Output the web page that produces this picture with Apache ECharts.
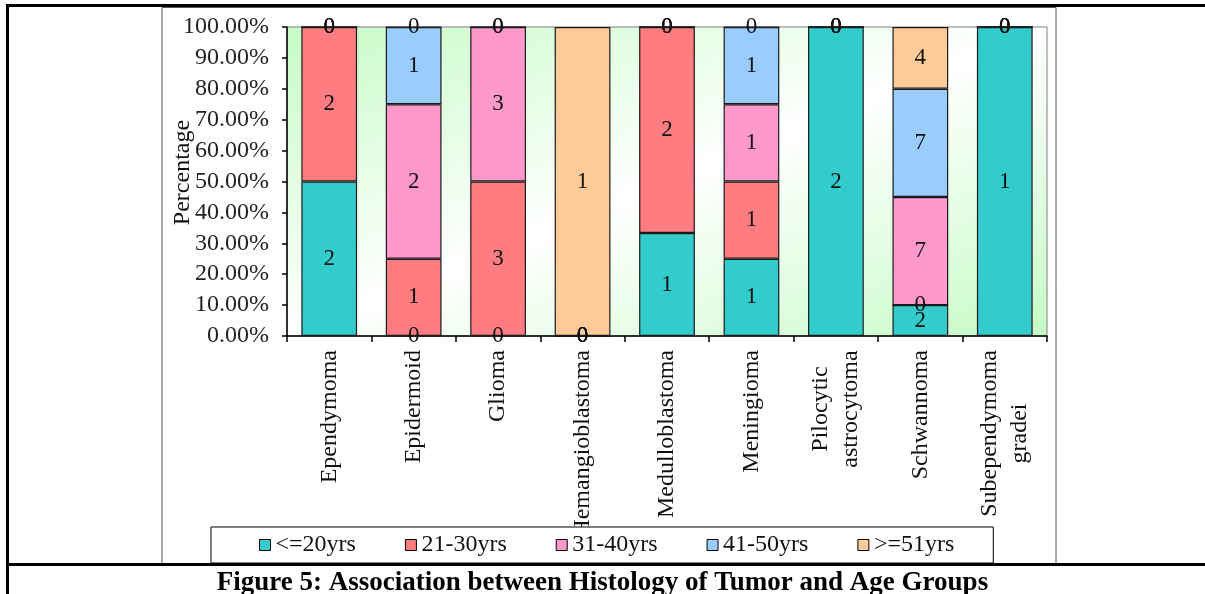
<!DOCTYPE html>
<html>
<head>
<meta charset="utf-8">
<script src="https://cdn.jsdelivr.net/npm/echarts@6/dist/echarts.min.js"></script>
<style>
html,body{margin:0;padding:0;background:#fff;}
#chart{width:1205px;height:594px;}
</style>
</head>
<body>
<div id="chart"></div>
<script>
// ---- data ----
const categories = ['Ependymoma','Epidermoid','Glioma','Hemangioblastoma','Medulloblastoma','Meningioma','Pilocytic\nastrocytoma','Schwannoma','Subependymoma\ngradei'];
const ageGroups = ['<=20yrs','21-30yrs','31-40yrs','41-50yrs','>=51yrs'];
const ageLe20   = [2,0,0,0,1,1,2,2,1];
const age21to30 = [2,1,3,0,2,1,0,0,0];
const age31to40 = [0,2,3,0,0,1,0,7,0];
const age41to50 = [0,1,0,0,0,1,0,7,0];
const ageGe51   = [0,0,0,1,0,0,0,4,0];
const yTickValues = [0,10,20,30,40,50,60,70,80,90,100];
const colors = ['#33CCCC','#FF7C80','#FF99CC','#99CCFF','#FFCC99'];
const caption = 'Figure 5: Association between Histology of Tumor and Age Groups';

const groups = [ageLe20, age21to30, age31to40, age41to50, ageGe51];
const totals = categories.map((c,i)=>groups.reduce((s,g)=>s+g[i],0));

const FONT = 'Liberation Serif';
const XFS = 24;
const gridL = 287, gridT = 27, gridR = 158, gridB = 258;
const gw = 1205 - gridL - gridR, gh = 594 - gridT - gridB;
const gsum = gw*gw + gh*gh;
const bg = new echarts.graphic.LinearGradient(0, 0, 2*gh*gh/gsum, 2*gw*gw/gsum, [
  {offset:0, color:'#c6fbc6'},
  {offset:0.5, color:'#ffffff'},
  {offset:1, color:'#c6fbc6'}
]);

// measure multi-line category labels so lines can be centred within their block
const ctx = document.createElement('canvas').getContext('2d');
ctx.font = XFS + 'px "' + FONT + '"';
const rich = {};
categories.forEach((c, i) => {
  const lines = c.split('\n');
  if (lines.length > 1) {
    const w = Math.max(...lines.map(l => ctx.measureText(l).width));
    rich['c' + i] = {width: Math.ceil(w), align: 'center', fontFamily: FONT, fontSize: XFS, color: '#111', lineHeight: 30};
  }
});

const series = ageGroups.map((name, k) => ({
  name: name,
  type: 'bar',
  stack: 'total',
  barWidth: '66%',
  itemStyle: {color: colors[k], borderColor: '#1a1a1a', borderWidth: 1.2},
  label: {
    show: true, position: 'inside', color: '#111',
    fontFamily: FONT, fontSize: 23,
    formatter: p => String(p.data.count)
  },
  data: groups[k].map((v,i) => ({value: v/totals[i]*100, count: v}))
}));

const chart = echarts.init(document.getElementById('chart'));
chart.setOption({
  animation: false,
  backgroundColor: '#fff',
  color: colors,
  title: {
    text: caption, left: 'center', top: 565,
    textStyle: {fontFamily: FONT, fontWeight: 'bold', fontSize: 27, color: '#000'}
  },
  legend: {
    data: ageGroups,
    left: 211, top: 527,
    padding: [6, 39, 6, 48],
    itemGap: 49, itemWidth: 11, itemHeight: 11,
    icon: 'rect',
    borderColor: '#000', borderWidth: 1, backgroundColor: '#fff',
    itemStyle: {borderColor: '#000', borderWidth: 1},
    textStyle: {fontFamily: FONT, fontSize: 24, color: '#111'}
  },
  grid: {
    left: gridL, top: gridT, right: gridR, bottom: gridB,
    show: true, backgroundColor: bg, borderColor: '#808080', borderWidth: 1
  },
  xAxis: {
    type: 'category',
    data: categories,
    axisLine: {lineStyle: {color: '#000', width: 1.5}},
    axisTick: {show: true, length: 6, lineStyle: {color: '#000', width: 1.5}},
    axisLabel: {
      rotate: 90, interval: 0, margin: 14, fontFamily: FONT, fontSize: XFS, color: '#111', lineHeight: 30,
      rich: rich,
      formatter: (val, idx) => {
        const lines = val.split('\n');
        return lines.length > 1 ? lines.map(l => '{c' + idx + '|' + l + '}').join('\n') : val;
      }
    }
  },
  yAxis: {
    type: 'value', min: 0, max: 100, interval: 10,
    name: 'Percentage', nameLocation: 'middle', nameGap: 92, nameMoveOverlap: false,
    nameTextStyle: {fontFamily: FONT, fontSize: 24, color: '#111', padding: [0, 0, 0, 18]},
    splitLine: {show: false},
    axisLine: {show: true, lineStyle: {color: '#000', width: 1.5}},
    axisTick: {show: true, length: 5, lineStyle: {color: '#000', width: 1.5}},
    axisLabel: {
      margin: 18, fontFamily: FONT, fontSize: 24, color: '#222',
      formatter: v => yTickValues.includes(v) ? v.toFixed(2) + '%' : ''
    }
  },
  graphic: [
    {type:'rect', z: 0, shape:{x:162, y:7.5, width:894, height:556}, style:{fill:null, stroke:'#555', lineWidth:1}},
    {type:'line', z: 10, shape:{x1:6, y1:5.5, x2:1205, y2:5.5}, style:{stroke:'#000', lineWidth:3}},
    {type:'line', z: 10, shape:{x1:7.5, y1:4, x2:7.5, y2:594}, style:{stroke:'#000', lineWidth:3}},
    {type:'line', z: 10, shape:{x1:6, y1:564.5, x2:1205, y2:564.5}, style:{stroke:'#000', lineWidth:3}}
  ],
  series: series
});
</script>
</body>
</html>
